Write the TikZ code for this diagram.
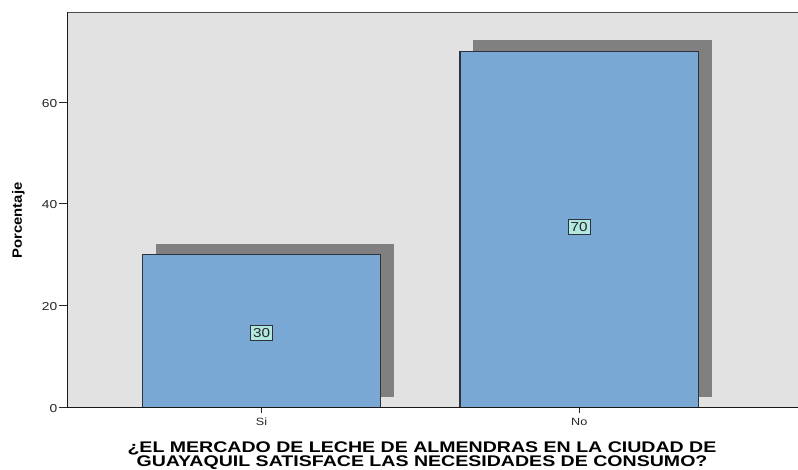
\documentclass[tikz,border=0pt]{standalone}
\usepackage{fontspec}
\setmainfont{Liberation Sans}
\usepackage{graphicx}
\definecolor{plotbg}{RGB}{226,226,226}
\definecolor{barfill}{RGB}{121,168,213}
\definecolor{baredge}{RGB}{45,50,60}
\definecolor{shadowc}{RGB}{128,128,128}
\definecolor{lblfill}{RGB}{178,232,224}
\newcommand{\sxtext}[3]{\scalebox{#1}[1]{\fontsize{#2}{#2}\selectfont #3}}
\tikzset{
  barbox/.style={fill=barfill, draw=baredge, line width=1.1pt},
  shadowbox/.style={fill=shadowc, draw=none},
  vallabel/.style={fill=lblfill, draw=baredge, line width=0.8pt, inner xsep=2.5pt, inner ysep=3pt, text=black!85},
  ytick/.style={anchor=base east, inner sep=0pt, text=black!85},
  xtick/.style={anchor=base, inner sep=0pt, text=black!85},
  tickline/.style={line width=1pt, black!85},
  axisline/.style={line width=1pt, black!90},
}
\begin{document}
\begin{tikzpicture}[x=1pt,y=-1pt]
\useasboundingbox (0,0) rectangle (798,469);
% plot background
\fill[plotbg] (67,12) rectangle (798,407.5);
\draw[line width=1pt, black!70] (67,12) -- (798,12);
% shadows
\fill[shadowbox] (155.5,243.9) rectangle (394.3,396.7);
\fill[shadowbox] (472.7,39.7) rectangle (712.3,396.7);
% bars
\draw[barbox] (142.3,254.8) rectangle (380.7,407.5);
\draw[barbox] (460,51.2) rectangle (698.3,407.5);
% axes
\draw[axisline] (67,12) -- (67,407.5) -- (798,407.5);
% y ticks
\foreach \v/\yy in {0/407.5, 20/305.7, 40/203.9, 60/102.1}{
  \draw[tickline] (59,\yy) -- (67,\yy);
  \node[ytick] (yl\v) at (57.5,\yy+5) {\sxtext{1.2}{11.5}{\v}};
}
% x ticks
\draw[tickline] (261.5,407.5) -- (261.5,413);
\draw[tickline] (579.2,407.5) -- (579.2,413);
\node[xtick] (xsi) at (261.5,425.5) {\sxtext{1.2}{10.5}{Si}};
\node[xtick] (xno) at (579.2,425.5) {\sxtext{1.2}{10.5}{No}};
% value labels
\node[vallabel] (v30) at (261.5,333) {\sxtext{1.17}{13}{30}};
\node[vallabel] (v70) at (579.2,226.8) {\sxtext{1.17}{13}{70}};
% axis titles
\node[rotate=90, inner sep=0pt] (ytitle) at (18.5,220.5) {\sxtext{1.1}{13.5}{\bfseries Porcentaje}};
\node[anchor=base, inner sep=0pt] (xt1) at (422,452.3) {\sxtext{1.27}{15.4}{\bfseries ¿EL MERCADO DE LECHE DE ALMENDRAS EN LA CIUDAD DE}};
\node[anchor=base, inner sep=0pt] (xt2) at (422,466.7) {\sxtext{1.27}{15.4}{\bfseries GUAYAQUIL SATISFACE LAS NECESIDADES DE CONSUMO?}};
\end{tikzpicture}
\end{document}
